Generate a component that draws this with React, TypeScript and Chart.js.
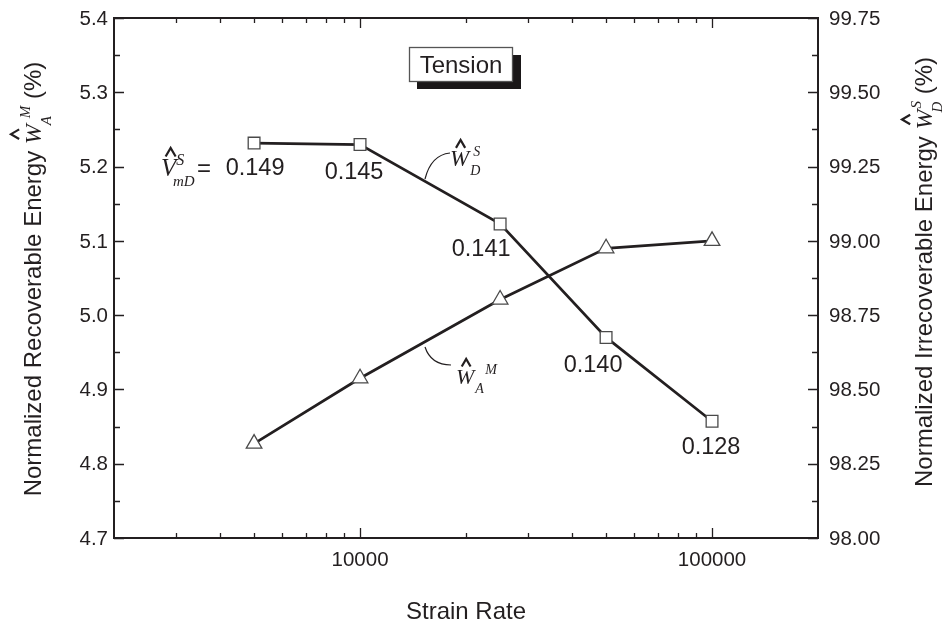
import React, { useEffect, useRef } from "react";
import { Chart, registerables } from "chart.js";

Chart.register(...registerables);

// ---------- data ----------
const strainRates = [5000, 10000, 25000, 50000, 100000];
const recoverableWAM = [4.827, 4.915, 5.021, 5.09, 5.1]; // left axis, triangles
const irrecoverableWDS = [99.329, 99.324, 99.057, 98.675, 98.393]; // right axis, squares
const volumeFractions = ["0.149", "0.145", "0.141", "0.140", "0.128"];
const xLabeledTicks = [10000, 100000];
const leftTicks = [4.7, 4.8, 4.9, 5.0, 5.1, 5.2, 5.3, 5.4];
const rightTicks = [98.0, 98.25, 98.5, 98.75, 99.0, 99.25, 99.5, 99.75];

// ---------- style ----------
const INK = "#231f20";
const SANS = '"Liberation Sans", Arial, Helvetica, sans-serif';
const SERIF = '"Liberation Serif", "Times New Roman", serif';
// label placement relative to its square marker (px)
const fractionOffsets = [
  [1, 25],
  [-6, 28],
  [-19, 26],
  [-13, 28],
  [-1, 26],
];

function drawHat(ctx: CanvasRenderingContext2D, cx: number, bottom: number, half: number, h: number, lw: number) {
  ctx.save();
  ctx.strokeStyle = INK;
  ctx.lineWidth = lw;
  ctx.lineJoin = "miter";
  ctx.beginPath();
  ctx.moveTo(cx - half, bottom);
  ctx.lineTo(cx, bottom - h);
  ctx.lineTo(cx + half, bottom);
  ctx.stroke();
  ctx.restore();
}

type Sym = {
  main: string;
  size: number;
  sup: string;
  sub: string;
  supGap: number;
  subGap: number;
  hatGap: number;
  hatShift: number;
};

function symWidth(ctx: CanvasRenderingContext2D, s: Sym) {
  ctx.font = `italic ${s.size}px ${SERIF}`;
  const w = ctx.measureText(s.main).width;
  ctx.font = `italic ${Math.round(s.size * 0.62)}px ${SERIF}`;
  const a = ctx.measureText(s.sup).width + s.supGap;
  const b = ctx.measureText(s.sub).width + s.subGap;
  return w + Math.max(a, b);
}

function drawSym(ctx: CanvasRenderingContext2D, x: number, y: number, s: Sym) {
  ctx.fillStyle = INK;
  ctx.textAlign = "left";
  ctx.textBaseline = "alphabetic";
  ctx.font = `italic ${s.size}px ${SERIF}`;
  ctx.fillText(s.main, x, y);
  const w = ctx.measureText(s.main).width;
  const cap = s.size * 0.66;
  drawHat(ctx, x + w * 0.5 + s.hatShift, y - cap - s.hatGap, s.size * 0.2, s.size * 0.34, 2.2);
  ctx.font = `italic ${Math.round(s.size * 0.62)}px ${SERIF}`;
  ctx.fillText(s.sup, x + w + s.supGap, y - s.size * 0.45);
  ctx.fillText(s.sub, x + w + s.subGap, y + s.size * 0.4);
  return x + symWidth(ctx, s);
}

function drawRotatedTitle(
  ctx: CanvasRenderingContext2D,
  baseX: number,
  centerY: number,
  prefix: string,
  sym: Sym,
  suffix: string,
  size: number
) {
  ctx.save();
  ctx.translate(baseX, centerY);
  ctx.rotate(-Math.PI / 2);
  ctx.font = `${size}px ${SANS}`;
  const pw = ctx.measureText(prefix).width;
  const sfw = ctx.measureText(suffix).width;
  const sw = symWidth(ctx, sym);
  const total = pw + sw + sfw;
  let x = -total / 2;
  ctx.fillStyle = INK;
  ctx.textAlign = "left";
  ctx.textBaseline = "alphabetic";
  ctx.font = `${size}px ${SANS}`;
  ctx.fillText(prefix, x, 0);
  x += pw;
  drawSym(ctx, x, 0, sym);
  x += sw;
  ctx.font = `${size}px ${SANS}`;
  ctx.fillText(suffix, x, 0);
  ctx.restore();
}

const decoPlugin = {
  id: "deco",
  afterDraw(chart: any) {
    const ctx: CanvasRenderingContext2D = chart.ctx;
    const { left, right, top, bottom } = chart.chartArea;
    const xs = chart.scales.x;
    const yl = chart.scales.yL;
    const yr = chart.scales.yR;
    ctx.save();

    // frame
    ctx.strokeStyle = INK;
    ctx.lineWidth = 2;
    ctx.strokeRect(left, top, right - left, bottom - top);

    // x ticks (major & minor, inward, top & bottom)
    ctx.lineWidth = 1.3;
    const xMinor: number[] = [];
    for (const dec of [1000, 10000, 100000]) {
      for (let k = 1; k <= 9; k++) {
        const v = k * dec;
        if (v > 2000 && v < 200000) xMinor.push(v);
      }
    }
    ctx.beginPath();
    for (const v of xMinor) {
      const px = Math.round(xs.getPixelForValue(v)) + 0.5;
      const len = xLabeledTicks.includes(v) ? 10 : 5;
      ctx.moveTo(px, bottom);
      ctx.lineTo(px, bottom - len);
      ctx.moveTo(px, top);
      ctx.lineTo(px, top + len);
    }
    // left ticks
    for (let i = 0; i < leftTicks.length; i++) {
      const py = Math.round(yl.getPixelForValue(leftTicks[i])) + 0.5;
      ctx.moveTo(left, py);
      ctx.lineTo(left + 10, py);
      if (i < leftTicks.length - 1) {
        const pm = Math.round(yl.getPixelForValue((leftTicks[i] + leftTicks[i + 1]) / 2)) + 0.5;
        ctx.moveTo(left, pm);
        ctx.lineTo(left + 6, pm);
      }
    }
    // right ticks
    for (let i = 0; i < rightTicks.length; i++) {
      const py = Math.round(yr.getPixelForValue(rightTicks[i])) + 0.5;
      ctx.moveTo(right, py);
      ctx.lineTo(right - 10, py);
      if (i < rightTicks.length - 1) {
        const pm = Math.round(yr.getPixelForValue((rightTicks[i] + rightTicks[i + 1]) / 2)) + 0.5;
        ctx.moveTo(right, pm);
        ctx.lineTo(right - 6, pm);
      }
    }
    ctx.stroke();

    // tick labels
    ctx.fillStyle = INK;
    ctx.font = `20.5px ${SANS}`;
    ctx.textBaseline = "middle";
    ctx.textAlign = "center";
    for (const v of xLabeledTicks) {
      ctx.fillText(String(v), xs.getPixelForValue(v), bottom + 22);
    }
    ctx.textAlign = "right";
    for (const v of leftTicks) ctx.fillText(v.toFixed(1), left - 6, yl.getPixelForValue(v) + 1);
    ctx.textAlign = "left";
    for (const v of rightTicks) ctx.fillText(v.toFixed(2), right + 11, yr.getPixelForValue(v) + 1);

    // axis titles
    ctx.font = `24px ${SANS}`;
    ctx.textAlign = "center";
    ctx.textBaseline = "alphabetic";
    ctx.fillText("Strain Rate", (left + right) / 2, 619);

    drawRotatedTitle(
      ctx,
      41,
      279,
      "Normalized Recoverable Energy ",
      { main: "W", size: 24, sup: "M", sub: "A", supGap: 6, subGap: -1, hatGap: 6, hatShift: 0 },
      " (%)",
      24
    );
    drawRotatedTitle(
      ctx,
      932,
      272,
      "Normalized Irrecoverable Energy ",
      { main: "W", size: 24, sup: "S", sub: "D", supGap: 1, subGap: -3, hatGap: 6, hatShift: 0 },
      " (%)",
      24
    );

    // volume fraction labels under squares
    const meta = chart.getDatasetMeta(0);
    ctx.font = `23.5px ${SANS}`;
    ctx.textAlign = "center";
    ctx.textBaseline = "middle";
    meta.data.forEach((pt: any, i: number) => {
      const [dx, dy] = fractionOffsets[i];
      ctx.fillText(volumeFractions[i], pt.x + dx, pt.y + dy);
    });

    // V^S_mD =
    drawSym(ctx, 161, 176, { main: "V", size: 25, sup: "S", sub: "", supGap: 0, subGap: 0, hatGap: 3, hatShift: 2 });
    ctx.font = `italic 15px ${SERIF}`;
    ctx.textAlign = "left";
    ctx.textBaseline = "alphabetic";
    ctx.fillText("mD", 173, 186);
    ctx.font = `24px ${SANS}`;
    ctx.fillText("=", 197, 176);

    // W_D^S label + leader
    drawSym(ctx, 450, 166, { main: "W", size: 23, sup: "S", sub: "D", supGap: 4, subGap: 1, hatGap: 3, hatShift: 1 });
    ctx.strokeStyle = INK;
    ctx.lineWidth = 1.2;
    ctx.beginPath();
    ctx.moveTo(425, 179);
    ctx.quadraticCurveTo(431, 155, 450, 153);
    ctx.stroke();

    // W_A^M label + leader
    drawSym(ctx, 456, 384, { main: "W", size: 22, sup: "M", sub: "A", supGap: 11, subGap: 1, hatGap: 3, hatShift: 1 });
    ctx.beginPath();
    ctx.moveTo(425, 347);
    ctx.quadraticCurveTo(431, 365, 451, 365);
    ctx.stroke();

    // Tension box with shadow
    ctx.fillStyle = "#1a1718";
    ctx.fillRect(417, 55, 104, 34);
    ctx.fillStyle = "#ffffff";
    ctx.fillRect(409, 47, 104, 35);
    ctx.strokeStyle = "#555";
    ctx.lineWidth = 1.3;
    ctx.strokeRect(409.5, 47.5, 103, 34);
    ctx.fillStyle = INK;
    ctx.font = `24px ${SANS}`;
    ctx.textAlign = "center";
    ctx.textBaseline = "middle";
    ctx.fillText("Tension", 461, 66);

    ctx.restore();
  },
};

export default function App() {
  const ref = useRef<HTMLCanvasElement>(null);

  useEffect(() => {
    const canvas = ref.current;
    if (!canvas) return;
    const chart = new Chart(canvas, {
      type: "scatter",
      data: {
        datasets: [
          {
            label: "W_D^S",
            yAxisID: "yR",
            data: strainRates.map((x, i) => ({ x, y: irrecoverableWDS[i] })),
            showLine: true,
            borderColor: INK,
            borderWidth: 2.7,
            pointStyle: "rect",
            pointRadius: 8.3,
            pointBackgroundColor: "#ffffff",
            pointBorderColor: "#4a4a4a",
            pointBorderWidth: 1.3,
          },
          {
            label: "W_A^M",
            yAxisID: "yL",
            data: strainRates.map((x, i) => ({ x, y: recoverableWAM[i] })),
            showLine: true,
            borderColor: INK,
            borderWidth: 2.7,
            pointStyle: "triangle",
            pointRadius: 9,
            pointBackgroundColor: "#ffffff",
            pointBorderColor: "#4a4a4a",
            pointBorderWidth: 1.3,
          },
        ],
      },
      options: {
        responsive: false,
        animation: false,
        events: [],
        layout: { padding: { top: 18, left: 0, right: 0, bottom: 0 }, autoPadding: false },
        plugins: { legend: { display: false }, tooltip: { enabled: false }, title: { display: false } },
        scales: {
          x: {
            type: "logarithmic",
            position: "bottom",
            min: 2000,
            max: 200000,
            grid: { display: false },
            border: { display: false },
            ticks: { display: false },
            afterFit: (s: any) => {
              s.height = 85;
            },
          },
          yL: {
            type: "linear",
            position: "left",
            min: 4.7,
            max: 5.4,
            grid: { display: false },
            border: { display: false },
            ticks: { display: false },
            afterFit: (s: any) => {
              s.width = 114;
            },
          },
          yR: {
            type: "linear",
            position: "right",
            min: 98,
            max: 99.75,
            grid: { display: false },
            border: { display: false },
            ticks: { display: false },
            afterFit: (s: any) => {
              s.width = 125;
            },
          },
        },
      },
      plugins: [decoPlugin],
    } as any);
    return () => chart.destroy();
  }, []);

  return (
    <div style={{ position: "absolute", left: 0, top: 0, width: 943, height: 623, background: "#fff" }}>
      <canvas ref={ref} width={943} height={623} style={{ display: "block" }} />
    </div>
  );
}
